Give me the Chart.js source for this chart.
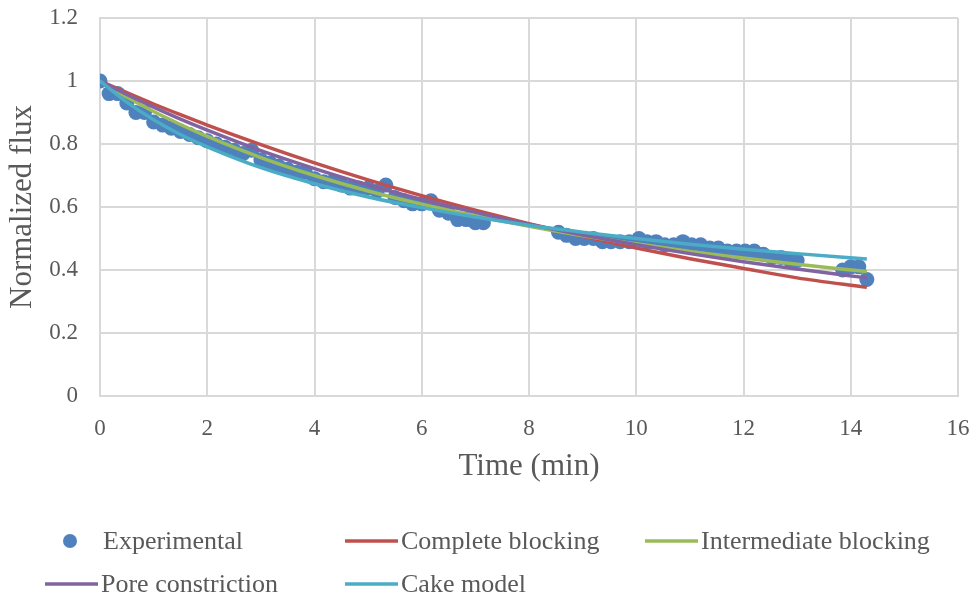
<!DOCTYPE html>
<html><head><meta charset="utf-8">
<script src="https://cdn.jsdelivr.net/npm/chart.js@4"></script>
<style>html,body{margin:0;padding:0;background:#fff;overflow:hidden}</style>
</head><body>
<canvas id="c" width="977" height="601"></canvas>
<script>
// ---- data ----
const expTime = [0, 0.17, 0.33, 0.5, 0.67, 0.83, 1.0, 1.17, 1.33, 1.5, 1.67, 1.83, 2.0, 2.17, 2.33, 2.5, 2.67, 2.83, 3.0, 3.17, 3.33, 3.5, 3.67, 3.83,
  4.0, 4.17, 4.33, 4.5, 4.67, 4.83, 5.0, 5.17, 5.33, 5.5, 5.67, 5.83, 6.0, 6.17, 6.33, 6.5, 6.67, 6.83, 7.0, 7.15,
  8.55, 8.7, 8.87, 9.03, 9.2, 9.37, 9.53, 9.7, 9.87, 10.05, 10.2, 10.37, 10.53, 10.7, 10.87, 11.03, 11.2, 11.37, 11.53, 11.7, 11.87, 12.03, 12.2, 12.37, 12.53, 12.7, 12.87, 13.0,
  13.85, 14.0, 14.15, 14.3];
const expFlux = [1.00, 0.96, 0.96, 0.93, 0.90, 0.90, 0.87, 0.86, 0.85, 0.84, 0.83, 0.82, 0.81, 0.80, 0.79, 0.78, 0.77, 0.78, 0.75, 0.74, 0.73, 0.72, 0.71, 0.71,
  0.69, 0.68, 0.68, 0.67, 0.66, 0.66, 0.66, 0.65, 0.67, 0.63, 0.62, 0.61, 0.61, 0.62, 0.59, 0.58, 0.56, 0.56, 0.55, 0.55,
  0.52, 0.51, 0.50, 0.50, 0.50, 0.49, 0.49, 0.49, 0.49, 0.50, 0.49, 0.49, 0.48, 0.48, 0.49, 0.48, 0.48, 0.47, 0.47, 0.46, 0.46, 0.46, 0.46, 0.45, 0.44, 0.44, 0.43, 0.43,
  0.40, 0.41, 0.41, 0.37];

const modelTime = [0, 0.5, 1, 1.5, 2, 3, 4, 5, 6, 7, 8, 9, 10, 11, 12, 13, 14.3];
const completeBlocking     = [1, 0.963, 0.927, 0.893, 0.860, 0.798, 0.740, 0.686, 0.636, 0.590, 0.547, 0.507, 0.470, 0.436, 0.405, 0.375, 0.345];
const intermediateBlocking = [1, 0.949, 0.903, 0.862, 0.824, 0.757, 0.700, 0.651, 0.609, 0.572, 0.539, 0.509, 0.483, 0.459, 0.438, 0.418, 0.395];
const poreConstriction     = [1, 0.957, 0.917, 0.879, 0.844, 0.779, 0.722, 0.670, 0.624, 0.583, 0.545, 0.511, 0.480, 0.452, 0.426, 0.403, 0.375];
const cakeModel            = [1, 0.933, 0.877, 0.830, 0.791, 0.725, 0.674, 0.632, 0.598, 0.568, 0.542, 0.520, 0.500, 0.482, 0.466, 0.452, 0.435];

const seriesNames = ['Experimental', 'Complete blocking', 'Intermediate blocking', 'Pore constriction', 'Cake model'];
const xTickValues = [0, 2, 4, 6, 8, 10, 12, 14, 16];
const yTickValues = [0, 0.2, 0.4, 0.6, 0.8, 1, 1.2];
const yTickLabels = ['0', '0.2', '0.4', '0.6', '0.8', '1', '1.2'];

// ---- chart ----
const FONT = "'Liberation Serif', 'Times New Roman', serif";
const TEXT = '#595959';
const GRID = '#d9d9d9';
const pts = (xs, ys) => xs.map((x, i) => ({ x: x, y: ys[i] }));

const lineDs = (label, data, color, order) => ({
  label, data: pts(modelTime, data), showLine: true, borderColor: color, backgroundColor: color,
  borderWidth: 3.5, pointRadius: 0, pointHoverRadius: 0, cubicInterpolationMode: 'monotone', fill: false, order
});

// legend laid out in a grid, like the reference
const legendSlots = [
  { col: 0, row: 0 }, { col: 1, row: 0 }, { col: 2, row: 0 },
  { col: 0, row: 1 }, { col: 1, row: 1 }
];
const gridLegend = {
  id: 'gridLegend',
  afterDraw(chart) {
    const ctx = chart.ctx;
    const colX = [45, 345, 645], rowY = [541, 584];
    ctx.save();
    ctx.font = '26px ' + FONT;
    ctx.textBaseline = 'middle';
    ctx.textAlign = 'left';
    chart.data.datasets.forEach((ds, i) => {
      const s = legendSlots[i];
      const x = colX[s.col], y = rowY[s.row];
      if (i === 0) {
        ctx.fillStyle = ds.backgroundColor;
        ctx.beginPath(); ctx.arc(x + 25, y, 7, 0, Math.PI * 2); ctx.fill();
      } else {
        ctx.strokeStyle = ds.borderColor; ctx.lineWidth = 3.5;
        ctx.beginPath(); ctx.moveTo(x, y); ctx.lineTo(x + 53, y); ctx.stroke();
      }
      ctx.fillStyle = TEXT;
      ctx.fillText(ds.label, x + 56 + (i === 0 ? 2 : 0), y + 1);
    });
    ctx.restore();
  }
};

new Chart(document.getElementById('c'), {
  type: 'scatter',
  data: {
    datasets: [
      { label: seriesNames[0], data: pts(expTime, expFlux), backgroundColor: '#4F81BD', borderWidth: 0,
        pointRadius: 7.5, pointHoverRadius: 7.5, showLine: false, order: 5 },
      lineDs(seriesNames[1], completeBlocking, '#C0504D', 4),
      lineDs(seriesNames[2], intermediateBlocking, '#9BBB59', 3),
      lineDs(seriesNames[3], poreConstriction, '#8064A2', 2),
      lineDs(seriesNames[4], cakeModel, '#4BACC6', 1)
    ]
  },
  options: {
    responsive: false, animation: false, devicePixelRatio: 1,
    layout: { padding: { left: 0, right: 19, top: 18, bottom: 112 } },
    plugins: { legend: { display: false }, tooltip: { enabled: false } },
    scales: {
      x: {
        type: 'linear', min: 0, max: 16,
        afterBuildTicks: s => { s.ticks = xTickValues.map(v => ({ value: v })); },
        afterFit: s => { s.height = 93; },
        ticks: { color: TEXT, font: { family: FONT, size: 23 }, padding: 0, maxRotation: 0, callback: v => String(v) },
        grid: { color: GRID, lineWidth: 2, drawTicks: true, tickLength: 19, tickColor: 'rgba(0,0,0,0)' },
        border: { color: GRID, width: 2 },
        title: { display: true, text: 'Time (min)', color: TEXT, font: { family: FONT, size: 31 }, padding: { top: 4, bottom: 4 } }
      },
      y: {
        type: 'linear', min: 0, max: 1.2,
        afterBuildTicks: s => { s.ticks = yTickValues.map(v => ({ value: v })); },
        afterFit: s => { s.width = 100; },
        ticks: { color: TEXT, font: { family: FONT, size: 23 }, padding: 0,
          callback: (v) => { const k = yTickValues.findIndex(t => Math.abs(t - v) < 1e-9); return k >= 0 ? yTickLabels[k] : ''; } },
        grid: { color: GRID, lineWidth: 2, drawTicks: true, tickLength: 22, tickColor: 'rgba(0,0,0,0)' },
        border: { color: GRID, width: 2 },
        title: { display: true, text: 'Normalized flux', color: TEXT, font: { family: FONT, size: 31 }, padding: { top: 4, bottom: 4 } }
      }
    }
  },
  plugins: [gridLegend]
});
</script>
</body></html>
